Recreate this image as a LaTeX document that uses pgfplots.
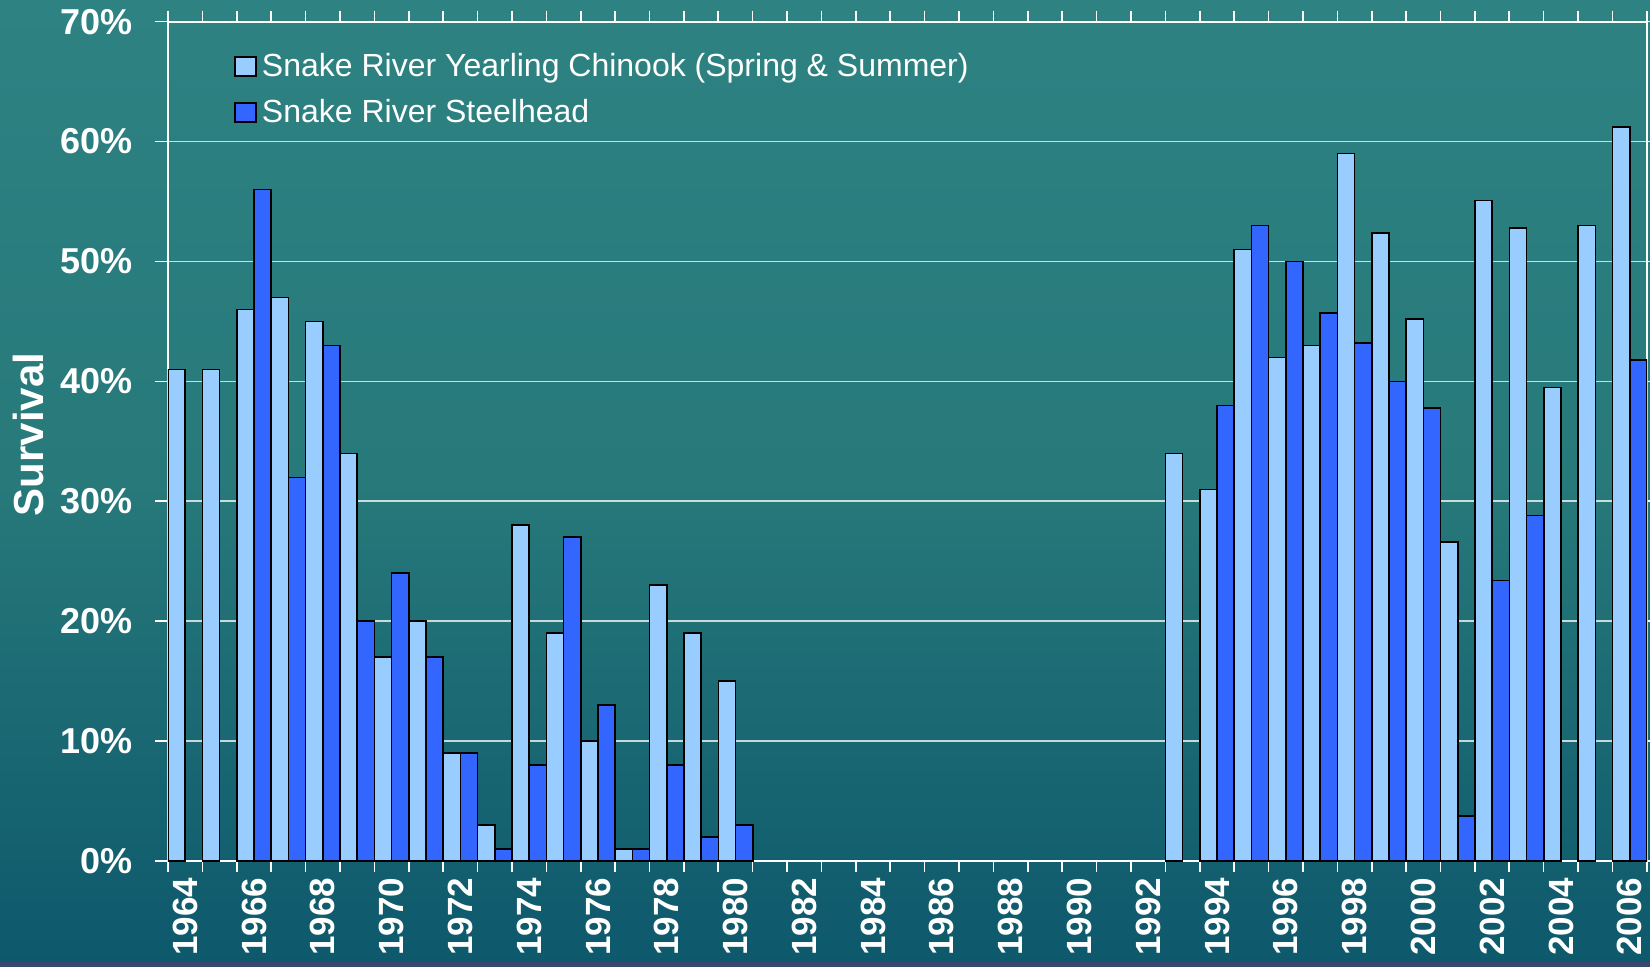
\documentclass[border=0pt]{standalone}
\usepackage{pgfplots}
\pgfplotsset{compat=1.18}
\usepackage{fontspec}
\setmainfont{Liberation Sans}
\definecolor{chin}{HTML}{99CCFF}
\definecolor{steel}{HTML}{3366FF}
\definecolor{bgtop}{HTML}{2E8282}
\definecolor{bgmid}{HTML}{27797A}
\definecolor{bgbot}{HTML}{0D586C}
\definecolor{strip}{HTML}{3A4870}
\begin{document}
\begin{tikzpicture}
\path[use as bounding box] (-84bp,-53bp) rectangle (741bp,430.5bp);
\shade[top color=bgtop, bottom color=bgbot, middle color=bgmid] (-84bp,-53bp) rectangle (741bp,430.5bp);
\fill[strip] (-84bp,-53bp) rectangle (741bp,-50.5bp);
\begin{axis}[
  at={(0,0)}, anchor=south west, scale only axis,
  width=739.5bp, height=419.65bp,
  xmin=1963.5, xmax=2006.5, ymin=0, ymax=70,
  axis line style={white, line width=1bp},
  ytick={0,10,...,70},
  yticklabels={0\%,10\%,20\%,30\%,40\%,50\%,60\%,70\%},
  xtick={1964,1966,...,2006},
  xticklabels={1964,1966,1968,1970,1972,1974,1976,1978,1980,1982,1984,1986,1988,1990,1992,1994,1996,1998,2000,2002,2004,2006},
  minor xtick={1963.5,1964.5,...,2006.5},
  tick align=outside,
  major tick length=6.5bp, minor tick length=5.5bp,
  major x tick style={draw=none},
  minor x tick style={white, line width=0.8bp},
  major y tick style={white, line width=0.8bp},
  ymajorgrids, grid style={white, opacity=0.75, line width=0.8bp},
  yticklabel style={font=\bfseries\fontsize{18bp}{20bp}\selectfont, text=white, xshift=-7.5bp},
  xticklabel style={rotate=90, anchor=east, font=\bfseries\fontsize{17.5bp}{20bp}\selectfont, text=white, xshift=1.5bp},
  ylabel={Survival},
  ylabel style={at={(axis description cs:-0.0838,0.508)}, anchor=south, rotate=0, inner sep=0pt, font=\bfseries\fontsize{21bp}{24bp}\selectfont, text=white},
  legend style={at={(axis description cs:0.0446,0.969)}, anchor=north west, draw=none, fill=none, inner sep=0pt, row sep=5bp, font=\fontsize{16bp}{18bp}\selectfont, text=white, nodes={inner sep=2.5bp}},
  legend cell align=left,
]
\addplot[ybar, fill=chin, draw=black, line width=0.8bp, bar width=0.5, bar shift=-0.25,
  legend image code/.code={\draw[fill=chin, draw=black, line width=0.8bp] (0bp,-4.75bp) rectangle (10.5bp,4.75bp);}]
coordinates {
(1964,41) (1965,41) (1966,46) (1967,47) (1968,45) (1969,34) (1970,17) (1971,20) (1972,9)
(1973,3) (1974,28) (1975,19) (1976,10) (1977,1) (1978,23) (1979,19) (1980,15)
(1993,34) (1994,31) (1995,51) (1996,42) (1997,43) (1998,59) (1999,52.4) (2000,45.2)
(2001,26.6) (2002,55.1) (2003,52.8) (2004,39.5) (2005,53.0) (2006,61.2)
};
\addlegendentry{Snake River Yearling Chinook (Spring \& Summer)}
\addplot[ybar, fill=steel, draw=black, line width=0.8bp, bar width=0.5, bar shift=0.25,
  legend image code/.code={\draw[fill=steel, draw=black, line width=0.8bp] (0bp,-4.75bp) rectangle (10.5bp,4.75bp);}]
coordinates {
(1966,56) (1967,32) (1968,43) (1969,20) (1970,24) (1971,17) (1972,9) (1973,1)
(1974,8) (1975,27) (1976,13) (1977,1) (1978,8) (1979,2) (1980,3)
(1994,38) (1995,53) (1996,50) (1997,45.7) (1998,43.2) (1999,40.0) (2000,37.8)
(2001,3.75) (2002,23.4) (2003,28.8) (2006,41.8)
};
\addlegendentry{Snake River Steelhead}
\end{axis}
\end{tikzpicture}
\end{document}
